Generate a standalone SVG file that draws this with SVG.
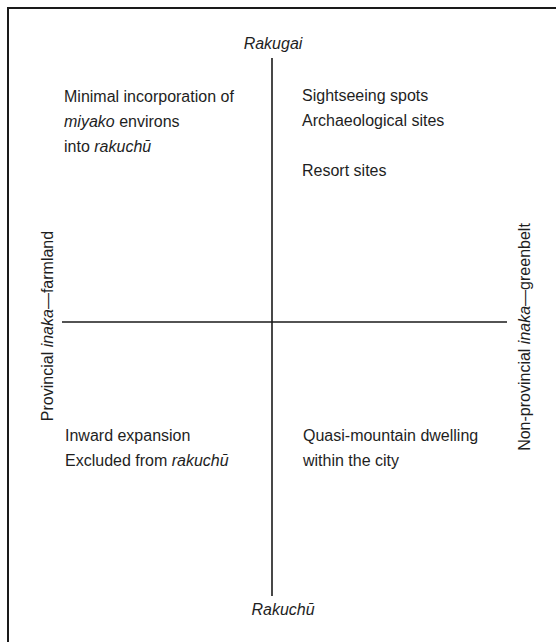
<svg xmlns="http://www.w3.org/2000/svg" width="556" height="642" viewBox="0 0 556 642">
  <style>
    text { font-family: "Liberation Sans", Arial, sans-serif; font-size: 16px; fill: #1e1e1e; }
    .it { font-style: italic; }
    .axis { stroke: #1a1a1a; stroke-width: 1.6; fill: none; }
    .frame { stroke: #1a1a1a; stroke-width: 2; fill: none; }
  </style>
  <rect width="556" height="642" fill="#ffffff"/>
  <!-- frame (top and left edges) -->
  <path class="frame" d="M8 642 V8 H556"/>

  <!-- axes -->
  <g id="axes">
    <line class="axis" x1="272" y1="58" x2="272" y2="596"/>
    <line class="axis" x1="62" y1="322" x2="507" y2="322"/>
  </g>

  <!-- axis labels -->
  <g id="label-top"><text x="273" y="49" text-anchor="middle" class="it">Rakugai</text></g>
  <g id="label-bottom"><text x="283" y="615" text-anchor="middle" class="it">Rakuchū</text></g>
  <g id="label-left">
    <text transform="translate(53 326) rotate(-90)" text-anchor="middle">Provincial <tspan class="it">inaka</tspan>—farmland</text>
  </g>
  <g id="label-right">
    <text transform="translate(530 337) rotate(-90)" text-anchor="middle">Non-provincial <tspan class="it">inaka</tspan>—greenbelt</text>
  </g>

  <!-- quadrants -->
  <g id="quadrant-top-left">
    <text x="64" y="102">Minimal incorporation of</text>
    <text x="64" y="127"><tspan class="it">miyako</tspan> environs</text>
    <text x="64" y="152">into <tspan class="it">rakuchū</tspan></text>
  </g>
  <g id="quadrant-top-right">
    <text x="302" y="101">Sightseeing spots</text>
    <text x="302" y="126">Archaeological sites</text>
    <text x="302" y="176">Resort sites</text>
  </g>
  <g id="quadrant-bottom-left">
    <text x="65" y="441">Inward expansion</text>
    <text x="65" y="466">Excluded from <tspan class="it">rakuchū</tspan></text>
  </g>
  <g id="quadrant-bottom-right">
    <text x="303" y="441">Quasi-mountain dwelling</text>
    <text x="303" y="466">within the city</text>
  </g>
</svg>
